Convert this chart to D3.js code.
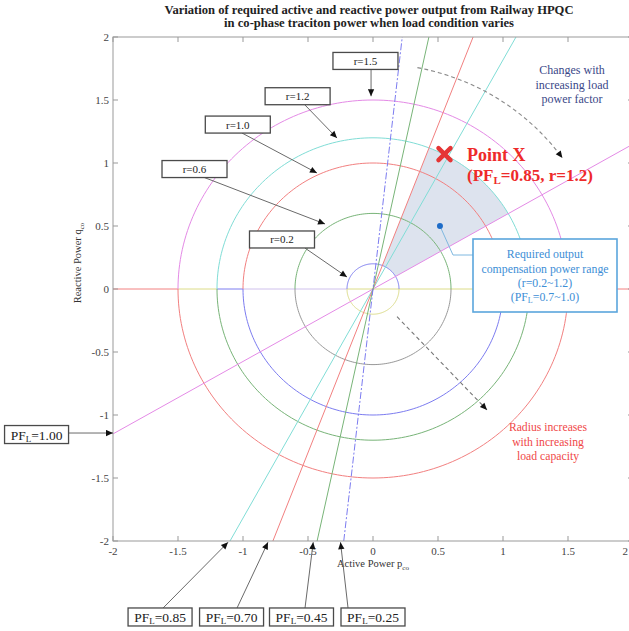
<!DOCTYPE html>
<html>
<head>
<meta charset="utf-8">
<script src="https://cdn.jsdelivr.net/npm/d3@7"></script>
<style>
  body { margin: 0; background: #fff; }
  text { font-family: "Liberation Serif", "Times New Roman", serif; }
</style>
</head>
<body>
<div id="chart"></div>
<script>
'use strict'

// circles of constant apparent power r
const radii = [0.2, 0.6, 1.0, 1.2, 1.5];
// load power factor lines, each given by the point where it leaves the plot
const pfLabels = ['1.00', '0.85', '0.70', '0.45', '0.25'];
const pfEndP = [2, 1.10, 0.77, 0.43, 0.225];
const pfEndQ = [1.15, 2, 2, 2, 2];
const xTicks = [-2, -1.5, -1, -0.5, 0, 0.5, 1, 1.5, 2];
const yTicks = [-2, -1.5, -1, -0.5, 0, 0.5, 1, 1.5, 2];
// pieces of the q = 0 line
const zeroBreaks = [-2, -1.5, -1.2, -1.0, -0.2, 1.5, 2];
// required compensation range
const rangeR = [0.2, 1.2];
const rangePF = ['1.00', '0.70'];
const pointX = [0.55, 1.07];
const samplePoint = [0.515, 0.5];

// colours
const upperColor = ['#7c7cf0', '#78b478', '#f28080', '#80ddd6', '#e48ae6'];
const lowerColor = ['#dcdc88', '#999999', '#7c7cf0', '#78b478', '#f28080'];
const pfColor = ['#e48ae6', '#80ddd6', '#f28080', '#78b478', '#7c7cf0'];
const zeroColor = ['#f28080', '#dcdc88', '#7c7cf0', '#cfc0ec', '#dcdc88', '#f28080'];

// annotation boxes, placed in data units: box centre, arrow tail, arrow tip
const rNotes = [
  { text: 'r=1.5', box: [-0.058, 1.81], tail: [-0.015, 1.745], tip: [-0.015, 1.53] },
  { text: 'r=1.2', box: [-0.58, 1.53], tail: [-0.523, 1.46], tip: [-0.277, 1.198] },
  { text: 'r=1.0', box: [-1.04, 1.305], tail: [-1.008, 1.238], tip: [-0.431, 0.921] },
  { text: 'r=0.6', box: [-1.373, 0.952], tail: [-1.308, 0.889], tip: [-0.369, 0.516] },
  { text: 'r=0.2', box: [-0.70, 0.393], tail: [-0.523, 0.325], tip: [-0.2, 0.095] }
];
const pfNotes = [
  { pf: '1.00', box: [-2.588, -1.155], tail: [-2.34, -1.143], tip: [-2.0, -1.143] },
  { pf: '0.85', box: [-1.638, -2.603], tail: [-1.615, -2.532], tip: [-1.115, -2.01] },
  { pf: '0.70', box: [-1.088, -2.603], tail: [-1.046, -2.532], tip: [-0.808, -2.01] },
  { pf: '0.45', box: [-0.55, -2.603], tail: [-0.523, -2.532], tip: [-0.46, -2.01] },
  { pf: '0.25', box: [0.0, -2.603], tail: [-0.192, -2.532], tip: [-0.25, -2.01] }
];

const W = 629, H = 631;
const x = d3.scaleLinear().domain([-2, 2]).range([113, 633]);
const y = d3.scaleLinear().domain([-2, 2]).range([541, 37]);

const svg = d3.select('#chart').append('svg')
  .attr('width', W).attr('height', H);

const defs = svg.append('defs');
defs.append('clipPath').attr('id', 'plot')
  .append('rect')
  .attr('x', x(-2)).attr('y', y(2))
  .attr('width', x(2) - x(-2)).attr('height', y(-2) - y(2));
defs.append('marker')
  .attr('id', 'head')
  .attr('viewBox', '0 0 10 10')
  .attr('refX', 10).attr('refY', 5)
  .attr('markerWidth', 9).attr('markerHeight', 7)
  .attr('markerUnits', 'userSpaceOnUse')
  .attr('orient', 'auto')
  .append('path').attr('d', 'M0,0.5 L10,5 L0,9.5 z').attr('fill', '#111');

const line = d3.line().x(d => x(d[0])).y(d => y(d[1]));
const polar = (r, a) => [r * Math.cos(a), r * Math.sin(a)];
const pfAngle = pf => {
  const i = pfLabels.indexOf(pf);
  return Math.atan2(pfEndQ[i], pfEndP[i]);
};

const plot = svg.append('g').attr('clip-path', 'url(#plot)');

// shaded compensation range
const a0 = pfAngle(rangePF[0]), a1 = pfAngle(rangePF[1]);
const steps = d3.range(0, 41).map(i => a0 + (a1 - a0) * i / 40);
const wedge = steps.map(a => polar(rangeR[1], a))
  .concat(steps.slice().reverse().map(a => polar(rangeR[0], a)));
plot.append('path')
  .attr('d', line(wedge) + 'Z')
  .attr('fill', '#dde3ee');

// q = 0 line
plot.selectAll('.zero')
  .data(d3.pairs(zeroBreaks))
  .enter().append('path')
  .attr('class', 'zero')
  .attr('d', d => line([[d[0], 0], [d[1], 0]]))
  .attr('stroke', (d, i) => zeroColor[i])
  .attr('fill', 'none');

// circles, upper and lower halves
const half = (r, from) => d3.range(0, 121).map(i => polar(r, from + Math.PI * i / 120));
radii.forEach((r, i) => {
  plot.append('path').attr('d', line(half(r, 0)))
    .attr('fill', 'none').attr('stroke', upperColor[i]).attr('stroke-width', 1);
  plot.append('path').attr('d', line(half(r, Math.PI)))
    .attr('fill', 'none').attr('stroke', lowerColor[i]).attr('stroke-width', 1);
});

// power factor lines
plot.selectAll('.pf')
  .data(pfLabels)
  .enter().append('path')
  .attr('class', 'pf')
  .attr('d', (d, i) => line([[-pfEndP[i], -pfEndQ[i]], [pfEndP[i], pfEndQ[i]]]))
  .attr('stroke', (d, i) => pfColor[i])
  .attr('stroke-width', 1)
  .attr('stroke-dasharray', d => d === '0.25' ? '7,2,2,2' : null)
  .attr('fill', 'none');

// axes frame and ticks
const frame = svg.append('g').attr('stroke', '#999').attr('fill', 'none');
frame.append('rect')
  .attr('x', x(-2)).attr('y', y(2))
  .attr('width', x(2) - x(-2)).attr('height', y(-2) - y(2));
xTicks.forEach(t => {
  frame.append('line').attr('x1', x(t)).attr('x2', x(t)).attr('y1', y(-2)).attr('y2', y(-2) - 5);
  frame.append('line').attr('x1', x(t)).attr('x2', x(t)).attr('y1', y(2)).attr('y2', y(2) + 5);
});
yTicks.forEach(t => {
  frame.append('line').attr('x1', x(-2)).attr('x2', x(-2) + 5).attr('y1', y(t)).attr('y2', y(t));
  frame.append('line').attr('x1', x(2)).attr('x2', x(2) - 5).attr('y1', y(t)).attr('y2', y(t));
});
svg.selectAll('.xt')
  .data(xTicks)
  .enter().append('text')
  .attr('class', 'xt')
  .attr('x', d => Math.min(x(d), W - 1)).attr('y', y(-2) + 14)
  .attr('text-anchor', d => x(d) > W - 5 ? 'end' : 'middle')
  .attr('font-size', 11).attr('fill', '#444')
  .text(d => d);
svg.selectAll('.yt')
  .data(yTicks)
  .enter().append('text')
  .attr('class', 'yt')
  .attr('x', x(-2) - 4).attr('y', d => y(d) + 4)
  .attr('text-anchor', 'end')
  .attr('font-size', 11).attr('fill', '#444')
  .text(d => d);

// axis titles
const xl = svg.append('text')
  .attr('x', x(0)).attr('y', 567)
  .attr('text-anchor', 'middle').attr('font-size', 10.5).attr('fill', '#333');
xl.append('tspan').text('Active Power p');
xl.append('tspan').attr('font-size', 7).attr('dy', 3).text('co');
const yl = svg.append('text')
  .attr('transform', 'translate(81,263) rotate(-90)')
  .attr('text-anchor', 'middle').attr('font-size', 10.5).attr('fill', '#333');
yl.append('tspan').text('Reactive Power q');
yl.append('tspan').attr('font-size', 7).attr('dy', 3).text('co');

// chart title
const title = svg.append('g')
  .attr('font-weight', 'bold').attr('font-size', 12.6).attr('fill', '#222')
  .attr('text-anchor', 'middle');
title.append('text').attr('x', 369).attr('y', 14)
  .text('Variation of required active and reactive power output from Railway HPQC');
title.append('text').attr('x', 369).attr('y', 27)
  .text('in co-phase traciton power when load condition varies');

// arrow helper
const arrow = (g, from, to, color, dash) => g.append('path')
  .attr('d', line([from, to]))
  .attr('stroke', color).attr('stroke-width', 1)
  .attr('stroke-dasharray', dash || null)
  .attr('fill', 'none')
  .attr('marker-end', 'url(#head)');

// r labels
const notes = svg.append('g');
rNotes.forEach(n => {
  arrow(notes, n.tail, n.tip, '#6a6a6a');
  notes.append('rect')
    .attr('x', x(n.box[0]) - 32.5).attr('y', y(n.box[1]) - 8.5)
    .attr('width', 65).attr('height', 17)
    .attr('fill', '#fff').attr('stroke', '#4a4a4a').attr('stroke-width', 1.3);
  notes.append('text')
    .attr('x', x(n.box[0])).attr('y', y(n.box[1]) + 4)
    .attr('text-anchor', 'middle').attr('font-size', 11).attr('fill', '#222')
    .text(n.text);
});

// PF labels
pfNotes.forEach(n => {
  arrow(notes, n.tail, n.tip, '#6a6a6a');
  notes.append('rect')
    .attr('x', x(n.box[0]) - 32).attr('y', y(n.box[1]) - 9)
    .attr('width', 64).attr('height', 18)
    .attr('fill', '#fff').attr('stroke', '#4a4a4a').attr('stroke-width', 1.3);
  const t = notes.append('text')
    .attr('x', x(n.box[0])).attr('y', y(n.box[1]) + 5)
    .attr('text-anchor', 'middle').attr('font-size', 13.5).attr('fill', '#222');
  t.append('tspan').text('PF');
  t.append('tspan').attr('font-size', 9).attr('dy', 2).text('L');
  t.append('tspan').attr('dy', -2).text('=' + n.pf);
});

// power factor change arc
const arc = d3.range(0, 41).map(i => polar(1.79, (79 - 43.5 * i / 40) * Math.PI / 180));
svg.append('path')
  .attr('d', line(arc))
  .attr('stroke', '#8a8a8a').attr('stroke-width', 1.1)
  .attr('stroke-dasharray', '4,3').attr('fill', 'none')
  .attr('marker-end', 'url(#head)');
const pfText = svg.append('text')
  .attr('text-anchor', 'middle').attr('font-size', 12).attr('fill', '#3b4888');
['Changes with', 'increasing load', 'power factor'].forEach((s, i) => {
  pfText.append('tspan').attr('x', 572).attr('y', 74 + i * 14.5).text(s);
});

// radius change arrow
arrow(svg, [0.185, -0.22], [0.877, -0.96], '#777', '4,3').attr('stroke-width', 1.1);
const rText = svg.append('text')
  .attr('text-anchor', 'middle').attr('font-size', 11.7).attr('fill', '#f04848');
['Radius increases', 'with increasing', 'load capacity'].forEach((s, i) => {
  rText.append('tspan').attr('x', 548).attr('y', 431 + i * 14.5).text(s);
});

// sample point with call-out box
svg.append('path')
  .attr('d', line([samplePoint]) + 'L453,255L473,255')
  .attr('stroke', '#7fb8e0').attr('fill', 'none');
svg.append('circle')
  .attr('cx', x(samplePoint[0])).attr('cy', y(samplePoint[1])).attr('r', 3)
  .attr('fill', '#1e6cc8');
svg.append('rect')
  .attr('x', 473).attr('y', 239).attr('width', 144).attr('height', 73)
  .attr('fill', '#fff').attr('stroke', '#5aa6dc').attr('stroke-width', 1.6);
const box = svg.append('text')
  .attr('text-anchor', 'middle').attr('font-size', 11.8).attr('fill', '#3d8ed6');
box.append('tspan').attr('x', 545).attr('y', 258).text('Required output');
box.append('tspan').attr('x', 545).attr('y', 273).text('compensation power range');
box.append('tspan').attr('x', 545).attr('y', 287).text('(r=' + rangeR[0] + '~' + rangeR[1] + ')');
box.append('tspan').attr('x', 545).attr('y', 301).text('(PF');
box.append('tspan').attr('font-size', 8).attr('dy', 2).text('L');
box.append('tspan').attr('dy', -2).text('=0.7~1.0)');

// point X
const px = x(pointX[0]), py = y(pointX[1]);
svg.append('path')
  .attr('d', `M${px - 6},${py - 6}L${px + 6},${py + 6}M${px + 6},${py - 6}L${px - 6},${py + 6}`)
  .attr('stroke', '#e53535').attr('stroke-width', 4.5).attr('stroke-linecap', 'round');
const ptText = svg.append('g')
  .attr('font-weight', 'bold').attr('fill', '#ee2a2a');
ptText.append('text').attr('x', 467).attr('y', 161).attr('font-size', 18).text('Point X');
const pt2 = ptText.append('text').attr('x', 467).attr('y', 181).attr('font-size', 17);
pt2.append('tspan').text('(PF');
pt2.append('tspan').attr('font-size', 11).attr('dy', 3).text('L');
pt2.append('tspan').attr('dy', -3).text('=0.85, r=1.2)');
</script>
</body>
</html>
